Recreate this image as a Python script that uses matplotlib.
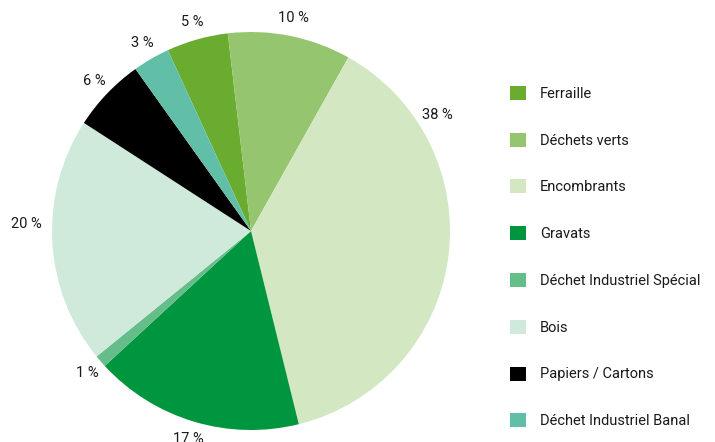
import matplotlib
matplotlib.use('Agg')
import matplotlib.pyplot as plt

plt.rcParams['font.family'] = ['Roboto', 'DejaVu Sans']

# waste categories and their share (%)
categories = ['Ferraille', 'Déchets verts', 'Encombrants', 'Gravats',
              'Déchet Industriel Spécial', 'Bois', 'Papiers / Cartons',
              'Déchet Industriel Banal']
shares = [5, 10, 38, 17, 1, 20, 6, 3]
colors = ['#6aac2f', '#95c56e', '#d3e7c3', '#009640',
          '#65be8a', '#cfeadb', '#000000', '#61bfa8']

fig = plt.figure(figsize=(7.15, 4.42), dpi=100)
# pie centred at (251, 231) px with radius 199 px
ax = fig.add_axes([52 / 715, 12 / 442, 398 / 715, 398 / 442])

wedges, texts, autotexts = ax.pie(
    shares, colors=colors, startangle=114.7, counterclock=False,
    autopct='%d %%', pctdistance=1.09, radius=1,
    wedgeprops=dict(linewidth=0),
    textprops=dict(fontsize=10.5, color='#1a1a1a'))

# the 38 % label sits at the upper right of its slice in the original
autotexts[2].set_position((0.935, 0.583))
autotexts[5].set_position((-1.13, 0.035))
ax.set_xlim(-1, 1)
ax.set_ylim(-1, 1)
ax.set_aspect('equal')
ax.axis('off')

leg = fig.legend(wedges, categories, loc='upper left',
                 bbox_to_anchor=(510 / 715, 1 - 86 / 442),
                 frameon=False, fontsize=10.5,
                 handlelength=1.1, handleheight=1.1,
                 handletextpad=0.95, labelspacing=2.18,
                 borderaxespad=0, borderpad=0)
for t in leg.get_texts():
    t.set_color('#1a1a1a')

plt.savefig('out.png', dpi=100)
